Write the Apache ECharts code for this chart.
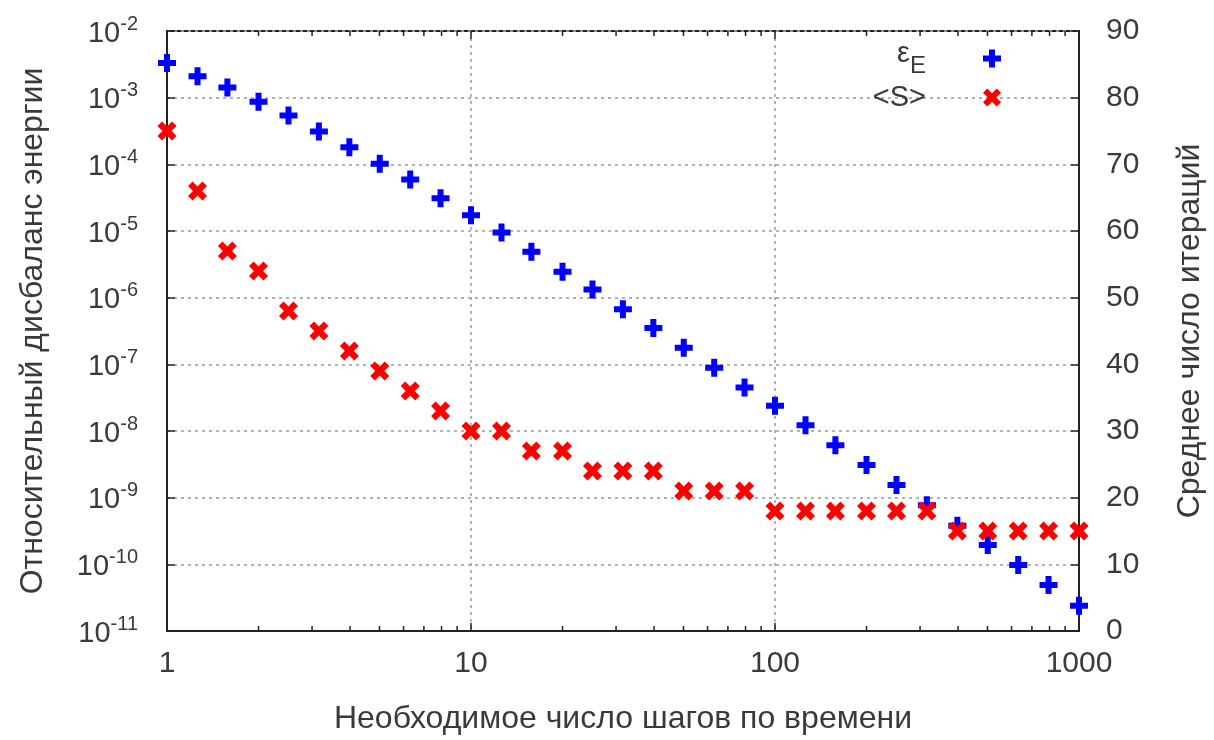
<!DOCTYPE html>
<html>
<head>
<meta charset="utf-8">
<script src="https://cdn.jsdelivr.net/npm/echarts@6/dist/echarts.min.js"></script>
<style>
  html, body { margin: 0; padding: 0; background: #fff; }
  #chart { width: 1214px; height: 740px; }
</style>
</head>
<body>
<div id="chart"></div>
<script>
// число шагов по времени
const steps = [1, 1.26, 1.58, 2, 2.51, 3.16, 3.98, 5.01, 6.31, 7.94,
  10, 12.6, 15.8, 20, 25.1, 31.6, 39.8, 50.1, 63.1, 79.4,
  100, 126, 158, 200, 251, 316, 398, 501, 631, 794, 1000];
// εE — относительный дисбаланс энергии (левая ось)
const epsE = [3.3e-3, 2.1e-3, 1.42e-3, 8.7e-4, 5.4e-4, 3.1e-4, 1.8e-4, 1.02e-4, 5.9e-5, 3.1e-5,
  1.72e-5, 9.5e-6, 4.9e-6, 2.44e-6, 1.33e-6, 6.7e-7, 3.5e-7, 1.78e-7, 8.9e-8, 4.5e-8,
  2.4e-8, 1.22e-8, 6.1e-9, 3.08e-9, 1.55e-9, 7.7e-10, 3.8e-10, 1.95e-10, 9.8e-11, 4.9e-11, 2.4e-11];
// <S> — среднее число итераций (правая ось)
const meanS = [75, 66, 57, 54, 48, 45, 42, 39, 36, 33,
  30, 30, 27, 27, 24, 24, 24, 21, 21, 21,
  18, 18, 18, 18, 18, 18, 15, 15, 15, 15, 15];
// мелкие засечки логарифмической оси
const minorTicks = [2, 3, 4, 5, 6, 7, 8, 9, 20, 30, 40, 50, 60, 70, 80, 90,
  200, 300, 400, 500, 600, 700, 800, 900];

const font = '"Liberation Sans", Arial, sans-serif';
const txt = '#3a3a3a';
const axisCol = '#222';
const gridLine = { show: true, lineStyle: { color: '#9a9a9a', type: [3, 4], width: 1.5 } };
const plusPath = 'path://M2,0H4V2H6V4H4V6H2V4H0V2H2Z';
const crossPath = 'path://M0,2.4L2.4,0L5,2.6L7.6,0L10,2.4L7.4,5L10,7.6L7.6,10L5,7.4L2.4,10L0,7.6L2.6,5Z';

const chart = echarts.init(document.getElementById('chart'));
chart.setOption({
  animation: false,
  textStyle: { fontFamily: font },
  grid: { left: 167, right: 133, top: 31, bottom: 108, show: true, borderColor: axisCol, borderWidth: 2 },
  legend: {
    data: ['εE', '<S>'],
    orient: 'vertical',
    right: 208,
    top: 34,
    align: 'right',
    itemWidth: 18,
    itemHeight: 18,
    itemGap: 5,
    formatter: name => name === 'εE' ? '{g|ε}{s|E}' : '{t|<S>}',
    textStyle: {
      color: txt,
      rich: {
        g: { fontSize: 29, fontFamily: font, color: txt, verticalAlign: 'bottom', padding: [0, 0, 10, 0] },
        s: { fontSize: 24, fontFamily: font, color: txt, verticalAlign: 'bottom', padding: [0, 52, 0, 0] },
        t: { fontSize: 29, fontFamily: font, color: txt, padding: [0, 52, 0, 0] },
      },
    },
  },
  xAxis: [{
    type: 'log',
    min: 1,
    max: 1000,
    name: 'Необходимое число шагов по времени',
    nameLocation: 'middle',
    nameGap: 72,
    nameTextStyle: { fontSize: 32, color: txt, fontFamily: font },
    axisLine: { show: true, lineStyle: { color: axisCol, width: 2 } },
    axisTick: { show: true, inside: true, length: 8, lineStyle: { color: axisCol, width: 1.5 } },
    axisLabel: { fontSize: 30, color: txt, margin: 18, fontFamily: font, formatter: v => String(Math.round(v)) },
    splitLine: gridLine,
  }, {
    type: 'log',
    min: 1,
    max: 1000,
    position: 'top',
    axisLine: { show: false },
    axisTick: { show: true, inside: true, length: 8, lineStyle: { color: axisCol, width: 1.5 } },
    axisLabel: { show: false },
    splitLine: { show: false },
  }],
  yAxis: [{
    type: 'log',
    min: 1e-11,
    max: 1e-2,
    splitNumber: 9,
    name: 'Относительный дисбаланс энергии',
    nameLocation: 'middle',
    nameRotate: 90,
    nameGap: 118,
    nameTextStyle: { fontSize: 32, color: txt, fontFamily: font },
    axisLine: { show: true, lineStyle: { color: axisCol, width: 2 } },
    axisTick: { show: true, inside: true, length: 8, lineStyle: { color: axisCol, width: 1.5 } },
    axisLabel: {
      margin: 29,
      formatter: v => '{b|10}{e|' + Math.round(Math.log10(v)) + '}',
      rich: {
        b: { fontSize: 29, color: txt, fontFamily: font, verticalAlign: 'bottom' },
        e: { fontSize: 20, color: txt, fontFamily: font, verticalAlign: 'bottom', padding: [0, 0, 14, 0] },
      },
    },
    splitLine: gridLine,
  }, {
    type: 'value',
    min: 0,
    max: 90,
    interval: 10,
    position: 'right',
    name: 'Среднее число итераций',
    nameLocation: 'middle',
    nameRotate: 90,
    nameGap: 95,
    nameTextStyle: { fontSize: 32, color: txt, fontFamily: font },
    axisLine: { show: true, lineStyle: { color: axisCol, width: 2 } },
    axisTick: { show: true, inside: true, length: 8, lineStyle: { color: axisCol, width: 1.5 } },
    axisLabel: { fontSize: 30, color: txt, margin: 27, fontFamily: font },
    splitLine: { show: false },
  }],
  series: [
    {
      type: 'custom',
      silent: true,
      xAxisIndex: 0,
      yAxisIndex: 1,
      z: 1,
      data: minorTicks.map(v => [v, 0]),
      renderItem: (params, api) => {
        const v = api.value(0);
        const b = api.coord([v, 0]);
        const t = api.coord([v, 90]);
        const style = { stroke: axisCol, lineWidth: 1.5 };
        return {
          type: 'group',
          children: [
            { type: 'line', shape: { x1: b[0], y1: b[1], x2: b[0], y2: b[1] - 5 }, style },
            { type: 'line', shape: { x1: t[0], y1: t[1], x2: t[0], y2: t[1] + 5 }, style },
          ],
        };
      },
    },
    {
      name: 'εE',
      type: 'scatter',
      yAxisIndex: 0,
      symbol: plusPath,
      symbolSize: 18,
      itemStyle: { color: '#0000ff', opacity: 1 },
      data: steps.map((x, i) => [x, epsE[i]]),
      z: 3,
    },
    {
      name: '<S>',
      type: 'scatter',
      yAxisIndex: 1,
      symbol: crossPath,
      symbolSize: 19,
      itemStyle: { color: '#ff0000', opacity: 1 },
      data: steps.map((x, i) => [x, meanS[i]]),
      z: 4,
    },
  ],
});
</script>
</body>
</html>
